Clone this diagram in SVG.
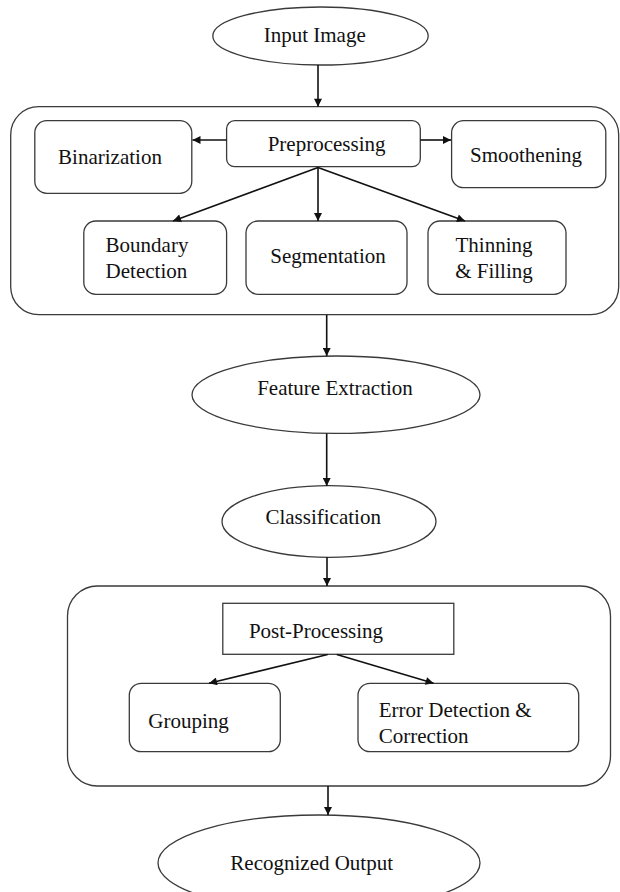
<svg xmlns="http://www.w3.org/2000/svg" width="620" height="892" viewBox="0 0 620 892">
<style>
.sh{fill:#fff;stroke:#3a3a3a;stroke-width:1.3}
.ct{fill:none;stroke:#3a3a3a;stroke-width:1.3}
.tx{font-family:"Liberation Serif","Times New Roman",serif;font-size:21px;fill:#111}
.m{text-anchor:middle}
.cn{fill:none;stroke:#111;stroke-width:1.6}
</style>
<defs>
<marker id="ah" viewBox="0 0 10 10" refX="10" refY="5" markerWidth="9" markerHeight="8" markerUnits="userSpaceOnUse" orient="auto">
<path d="M0,0 L10,5 L0,10 z" fill="#111"/>
</marker>
</defs>
<rect x="10.7" y="106.7" width="608" height="208" rx="28" class="ct"/>
<rect x="67.5" y="586" width="543" height="200" rx="30" class="ct"/>
<g id="input-image"><ellipse cx="320.5" cy="36" rx="107.7" ry="29" class="sh"/><text x="314.7" y="42" class="tx m">Input Image</text></g>
<g id="preprocessing"><rect x="226.6" y="120.7" width="193.7" height="46" rx="8" class="sh"/><text x="326.6" y="151" class="tx m">Preprocessing</text></g>
<g id="binarization"><rect x="34.8" y="120.7" width="157" height="72.6" rx="12" class="sh"/><text x="110" y="164" class="tx m">Binarization</text></g>
<g id="smoothening"><rect x="451.6" y="120.7" width="154.2" height="67" rx="12" class="sh"/><text x="526" y="161.5" class="tx m">Smoothening</text></g>
<g id="boundary-detection"><rect x="83.8" y="221" width="142.8" height="73.3" rx="12" class="sh"/><text x="105.6" y="252.3" class="tx">Boundary</text><text x="105.6" y="278.3" class="tx">Detection</text></g>
<g id="segmentation"><rect x="246" y="221" width="161" height="73.3" rx="12" class="sh"/><text x="328" y="263" class="tx m">Segmentation</text></g>
<g id="thinning-filling"><rect x="428" y="221" width="138" height="73.3" rx="12" class="sh"/><text x="494" y="252.3" class="tx m">Thinning</text><text x="494" y="278.3" class="tx m">&amp; Filling</text></g>
<g id="feature-extraction"><ellipse cx="336" cy="394.7" rx="144" ry="38.7" class="sh"/><text x="335" y="395" class="tx m">Feature Extraction</text></g>
<g id="classification"><ellipse cx="329" cy="521.5" rx="107" ry="35.8" class="sh"/><text x="323.2" y="524" class="tx m">Classification</text></g>
<g id="post-processing"><rect x="222.8" y="603.3" width="231" height="51" class="sh"/><text x="316" y="638" class="tx m">Post-Processing</text></g>
<g id="grouping"><rect x="129.3" y="683.3" width="151" height="68.4" rx="12" class="sh"/><text x="188.6" y="728" class="tx m">Grouping</text></g>
<g id="error-detection"><rect x="358" y="683.3" width="220.7" height="68.4" rx="12" class="sh"/><text x="378.8" y="716.7" class="tx">Error Detection &amp;</text><text x="378.8" y="742.7" class="tx">Correction</text></g>
<g id="recognized-output"><ellipse cx="319" cy="863" rx="161" ry="48" class="sh"/><text x="311.7" y="870" class="tx m">Recognized Output</text></g>
<g id="connectors">
<line x1="318" y1="65" x2="318" y2="106.7" class="cn" marker-end="url(#ah)"/>
<line x1="226.6" y1="140" x2="192.5" y2="140" class="cn" marker-end="url(#ah)"/>
<line x1="420.3" y1="140" x2="451" y2="140" class="cn" marker-end="url(#ah)"/>
<line x1="318" y1="167.5" x2="173" y2="221" class="cn" marker-end="url(#ah)"/>
<line x1="318" y1="167.5" x2="318" y2="221" class="cn" marker-end="url(#ah)"/>
<line x1="318" y1="167.5" x2="465" y2="221" class="cn" marker-end="url(#ah)"/>
<line x1="326.7" y1="315" x2="326.7" y2="356" class="cn" marker-end="url(#ah)"/>
<line x1="326.7" y1="433.5" x2="326.7" y2="486" class="cn" marker-end="url(#ah)"/>
<line x1="327" y1="557.3" x2="327" y2="586" class="cn" marker-end="url(#ah)"/>
<line x1="327.7" y1="654.5" x2="209" y2="683.3" class="cn" marker-end="url(#ah)"/>
<line x1="336.8" y1="654.5" x2="433.6" y2="683.3" class="cn" marker-end="url(#ah)"/>
<line x1="328" y1="786" x2="328" y2="815" class="cn" marker-end="url(#ah)"/>
</g>
</svg>
